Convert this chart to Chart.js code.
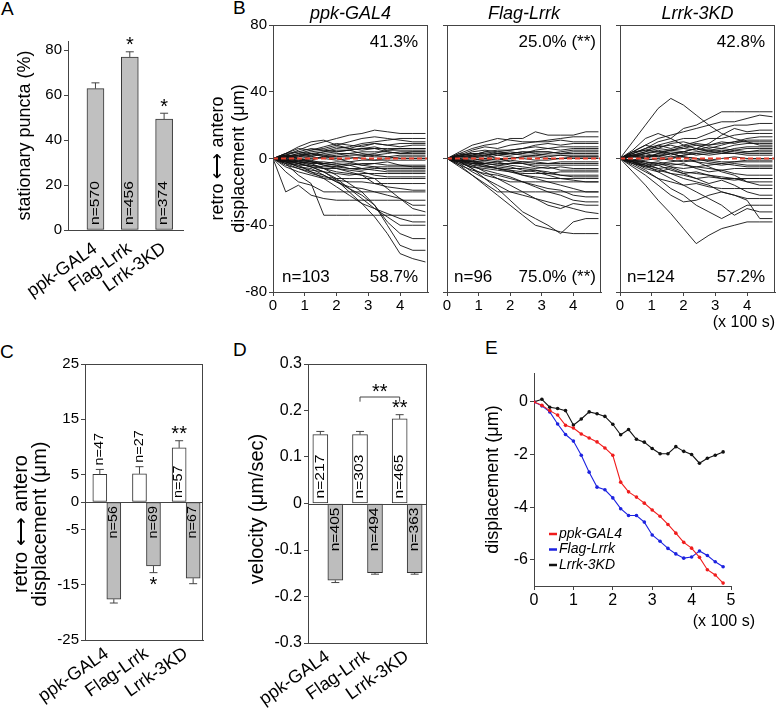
<!DOCTYPE html>
<html>
<head>
<meta charset="utf-8">
<script src="https://cdn.jsdelivr.net/npm/chart.js@4.4.1/dist/chart.umd.min.js"></script>
<style>
  body { margin: 0; background: #fff; width: 776px; height: 710px; position: relative; overflow: hidden; font-family: 'Liberation Sans', Arial, sans-serif; }
  canvas { position: absolute; }
  .panel { position: absolute; font-size: 19px; line-height: 19px; }
</style>
</head>
<body>
<div class="panel" style="left:1px;top:-1px">A</div>
<div class="panel" style="left:233px;top:-2px">B</div>
<div class="panel" style="left:0px;top:342px">C</div>
<div class="panel" style="left:233px;top:340px">D</div>
<div class="panel" style="left:485px;top:338px">E</div>

<canvas id="chartA" width="195" height="300" style="left:0;top:0"></canvas>
<canvas id="chartB1" width="252" height="335" style="left:180px;top:0"></canvas>
<canvas id="chartB2" width="170" height="335" style="left:435px;top:0"></canvas>
<canvas id="chartB3" width="168" height="335" style="left:608px;top:0"></canvas>
<canvas id="chartC" width="206" height="360" style="left:0;top:350px"></canvas>
<canvas id="chartD" width="215" height="360" style="left:215px;top:350px"></canvas>
<canvas id="chartE" width="296" height="280" style="left:480px;top:360px"></canvas>

<script>
// ---- data ----
const genotypes = ['ppk-GAL4', 'Flag-Lrrk', 'Lrrk-3KD'];

// A: stationary puncta (%)
const stationary = [62.8, 76.9, 49.3];
const stationaryErr = [2.6, 2.3, 2.6];
const stationaryN = ['n=570', 'n=456', 'n=374'];
const yTicksA = [0, 20, 40, 60, 80];

// B: displacement trajectories (um) sampled every 40 s
const bTime = [0, 0.4, 0.8, 1.2, 1.6, 2.0, 2.4, 2.8, 3.2, 3.6, 4.0, 4.4, 4.8];
const tracksGal4 = [
  [0, 2, 5, 8, 10, 12, 14, 15, 17, 16, 15, 15, 15],
  [0, 1, 3, 5, 6, 8, 10, 12, 13, 12, 11, 10, 10],
  [0, 3, 6, 5, 7, 9, 8, 7, 9, 8, 9, 9, 9],
  [0, 1, 2, 3, 4, 5, 5, 6, 6, 6, 6, 6, 6],
  [0, -1, 1, 2, 2, 3, 3, 4, 4, 4, 3, 3, 3],
  [0, -2, -1, 0, 1, 1, 2, 2, 1, 1, 2, 2, 2],
  [0, -1, -2, -3, -3, -2, -2, -1, -1, -1, -1, -1, -1],
  [0, -3, -4, -4, -5, -5, -6, -6, -5, -5, -5, -5, -5],
  [0, -2, -5, -7, -8, -9, -10, -9, -9, -9, -9, -9, -9],
  [0, -5, -8, -10, -12, -13, -14, -14, -15, -15, -15, -15, -15],
  [0, -8, -14, -16, -20, -20, -20, -20, -20, -20, -20, -20, -20],
  [0, -20, -16, -22, -24, -25, -25, -25, -25, -25, -25, -25, -25],
  [0, -3, -10, -15, -34, -34, -34, -34, -34, -34, -34, -34, -34],
  [0, -2, -4, -8, -12, -17, -22, -27, -30, -33, -36, -38, -38],
  [0, -1, -3, -5, -8, -12, -18, -24, -30, -35, -40, -40, -40],
  [0, -2, -5, -6, -10, -14, -18, -22, -28, -38, -45, -48, -48],
  [0, -1, -2, -4, -6, -10, -15, -20, -28, -40, -52, -55, -55],
  [0, -1, -3, -5, -8, -13, -20, -27, -35, -45, -57, -60, -62],
  [0, 2, 4, 3, 1, 0, -2, -4, -3, -2, -4, -5, -5],
  [0, -4, -6, -9, -11, -12, -12, -12, -12, -12, -12, -12, -12],
  [0, 3, 7, 10, 11, 8, 6, 5, 6, 4, 3, 4, 4],
  [0, -3, -6, -8, -10, -14, -17, -18, -20, -22, -24, -30, -32],
  [0, 0, -1, -2, -4, -6, -8, -10, -12, -18, -24, -28, -28],
  [0, 1, -2, -3, -6, -8, -9, -10, -15, -17, -18, -19, -19],
  [0, 1, 2, 4, 5, 7, 6, 8, 9, 8, 7, 8, 8],
  [0, -1, 0, 1, 0, -1, 0, 1, 2, 1, 0, 0, 0],
  [0, 2, 0, -2, -3, -4, -3, -4, -5, -7, -7, -7, -7],
  [0, 0, 2, 1, 3, 4, 5, 3, 2, 3, 4, 4, 4],
  [0, 1, 3, 2, 4, 6, 7, 9, 10, 11, 12, 12, 12],
  [0, -1, -1, -2, -2, -3, -4, -3, -3, -4, -4, -4, -4],
  [0, 2, 1, 3, 2, 1, 1, 0, -1, 0, 1, 1, 1],
  [0, -2, -3, -5, -6, -6, -7, -8, -10, -11, -11, -11, -11],
  [0, 1, 0, -1, 1, 2, 3, 2, 3, 5, 6, 6, 6],
  [0, -1, -3, -2, -4, -5, -4, -6, -7, -8, -8, -8, -8],
  [0, 3, 4, 6, 5, 4, 5, 6, 7, 5, 5, 5, 5],
  [0, -2, -2, -1, -3, -4, -6, -7, -6, -6, -6, -6, -6]
];
const tracksFlag = [
  [0, 3, 6, 8, 9, 12, 12, 16, 14, 14, 14, 16, 16],
  [0, 4, 8, 10, 12, 11, 10, 10, 11, 12, 13, 13, 13],
  [0, 2, 5, 7, 6, 8, 9, 10, 10, 11, 10, 10, 10],
  [0, 1, 2, 4, 5, 5, 6, 7, 6, 7, 7, 7, 7],
  [0, -1, 1, 2, 3, 3, 4, 4, 4, 3, 3, 3, 3],
  [0, -1, -2, -1, 0, 0, 1, 1, 0, 0, 0, 0, 0],
  [0, -2, -3, -3, -4, -3, -3, -4, -4, -4, -4, -4, -4],
  [0, -3, -5, -6, -7, -8, -9, -9, -9, -8, -8, -8, -8],
  [0, -2, -6, -10, -12, -14, -14, -14, -14, -14, -14, -14, -14],
  [0, -5, -10, -15, -20, -20, -20, -20, -20, -20, -20, -20, -20],
  [0, -3, -8, -12, -16, -20, -22, -24, -26, -28, -30, -32, -33],
  [0, -4, -10, -16, -22, -28, -34, -40, -42, -44, -45, -45, -45],
  [0, -2, -6, -12, -18, -25, -32, -36, -40, -45, -38, -36, -36],
  [0, -1, -4, -8, -12, -16, -20, -24, -28, -30, -27, -28, -28],
  [0, -2, -5, -7, -9, -11, -14, -17, -20, -22, -25, -26, -26],
  [0, -1, -2, -4, -6, -7, -10, -12, -14, -16, -18, -20, -20],
  [0, 2, 3, 2, 0, -2, -3, -5, -6, -5, -6, -6, -6],
  [0, -1, -3, -5, -6, -8, -10, -11, -12, -12, -12, -12, -12],
  [0, 1, 4, 5, 4, 3, 2, 2, 3, 4, 5, 5, 5],
  [0, -4, -7, -9, -10, -12, -14, -16, -18, -19, -22, -23, -23],
  [0, 1, 0, -1, -2, -1, -2, -2, -3, -2, -2, -2, -2],
  [0, 2, 3, 3, 2, 3, 4, 3, 2, 2, 1, 1, 1],
  [0, -2, -4, -5, -5, -6, -6, -7, -8, -10, -11, -11, -11],
  [0, 0, -1, 0, 2, 1, 0, -1, -1, 0, 1, 1, 1],
  [0, 1, 2, 1, 3, 4, 3, 5, 6, 5, 6, 6, 6],
  [0, -1, -2, -3, -2, -4, -5, -6, -5, -7, -7, -7, -7],
  [0, 2, 1, 2, 4, 5, 6, 8, 9, 8, 9, 9, 9],
  [0, -2, -1, -3, -4, -5, -7, -8, -10, -12, -13, -14, -14],
  [0, 1, 1, 0, -1, 0, 1, 2, 1, 2, 2, 2, 2],
  [0, -1, -3, -4, -6, -7, -8, -7, -9, -10, -10, -10, -10],
  [0, 3, 2, 4, 3, 2, 3, 4, 4, 3, 4, 4, 4],
  [0, 0, -2, -2, -3, -3, -2, -3, -3, -3, -3, -3, -3]
];
const tracks3KD = [
  [0, 10, 20, 30, 36, 32, 26, 20, 15, 12, 10, 8, 8],
  [0, 5, 12, 15, 12, 18, 20, 24, 28, 28, 28, 28, 28],
  [0, 4, 8, 12, 14, 16, 18, 20, 22, 22, 24, 26, 25],
  [0, 2, 4, 8, 10, 12, 12, 15, 18, 20, 20, 21, 21],
  [0, 3, 6, 8, 6, 8, 10, 12, 12, 14, 15, 15, 15],
  [0, 1, 3, 4, 5, 6, 8, 8, 9, 10, 10, 10, 10],
  [0, 2, 1, 3, 4, 3, 4, 5, 6, 5, 6, 6, 6],
  [0, -1, 1, 2, 1, 2, 3, 2, 3, 3, 2, 2, 2],
  [0, -2, -1, 0, -1, -2, -1, -1, -2, -2, -2, -2, -2],
  [0, -3, -4, -3, -5, -6, -5, -6, -7, -6, -6, -6, -6],
  [0, -2, -5, -7, -9, -10, -12, -11, -12, -12, -12, -12, -12],
  [0, -4, -8, -12, -14, -16, -15, -17, -18, -18, -18, -18, -18],
  [0, -5, -10, -16, -22, -26, -25, -22, -20, -22, -24, -24, -24],
  [0, -8, -16, -25, -33, -42, -51, -46, -42, -40, -38, -38, -38],
  [0, -3, -7, -12, -18, -22, -28, -32, -36, -32, -28, -28, -28],
  [0, -2, -4, -8, -12, -16, -20, -24, -28, -34, -30, -32, -32],
  [0, -1, -3, -6, -9, -12, -14, -16, -20, -22, -25, -36, -36],
  [0, 1, 3, 5, 3, 1, -2, -5, -8, -10, -14, -16, -16],
  [0, 4, 8, 6, 9, 10, 8, 6, 8, 10, 12, 13, 13],
  [0, -2, -4, -6, -5, -8, -9, -10, -11, -12, -14, -14, -14],
  [0, 3, 5, 4, 2, 4, 6, 5, 4, 3, 4, 5, 5],
  [0, -1, -2, -4, -3, -4, -5, -4, -3, -4, -5, -5, -5],
  [0, 2, 3, 1, 0, 2, 3, 4, 5, 4, 3, 3, 3],
  [0, -1, 0, 2, 3, 1, 0, -2, -3, -2, -1, -1, -1],
  [0, 3, 6, 10, 12, 8, 6, 9, 14, 18, 16, 17, 17],
  [0, -2, -6, -8, -6, -9, -12, -15, -13, -16, -20, -22, -22],
  [0, 2, 4, 6, 5, 7, 9, 8, 10, 9, 11, 11, 11],
  [0, -2, -3, -2, -4, -3, -6, -8, -7, -9, -10, -10, -10],
  [0, 1, 2, 1, 3, 4, 2, 3, 4, 6, 7, 7, 7],
  [0, -1, -2, -3, -2, -1, -2, -3, -4, -3, -4, -4, -4],
  [0, 4, 5, 7, 8, 6, 5, 7, 6, 8, 9, 9, 9],
  [0, -3, -5, -4, -7, -9, -8, -10, -12, -13, -12, -12, -12],
  [0, 1, 0, -1, 0, 1, 0, -1, 0, 1, 0, 0, 0],
  [0, 2, 0, 3, 5, 4, 6, 4, 3, 5, 4, 4, 4]
];
const bZeroX = [0, 4.88];
const bAntero = ['41.3%', '25.0% (**)', '42.8%'];
const bRetro = ['58.7%', '75.0% (**)', '57.2%'];
const bN = ['n=103', 'n=96', 'n=124'];
const yTicksB = [-80, -40, 0, 40, 80];
const xTicksB = [0, 1, 2, 3, 4];

// C: mean run displacement (um)
const cAntero = [5.0, 5.1, 9.8];
const cAnteroErr = [0.9, 1.3, 1.3];
const cRetro = [-17.6, -11.6, -13.8];
const cRetroErr = [0.7, 1.2, 1.0];
const cAnteroN = ['n=47', 'n=27', 'n=57'];
const cRetroN = ['n=56', 'n=69', 'n=67'];
const yTicksC = [25, 15, 5, 0, -5, -15, -25];

// D: velocity (um/sec)
const dAntero = [0.148, 0.148, 0.182];
const dAnteroErr = [0.007, 0.007, 0.009];
const dRetro = [-0.165, -0.149, -0.149];
const dRetroErr = [0.005, 0.003, 0.003];
const dAnteroN = ['n=217', 'n=303', 'n=465'];
const dRetroN = ['n=405', 'n=494', 'n=363'];
const yTicksD = [-0.3, -0.2, -0.1, 0, 0.1, 0.2, 0.3];

// E: average displacement (um)
const eTime = [0, 0.2, 0.4, 0.6, 0.8, 1.0, 1.2, 1.4, 1.6, 1.8, 2.0, 2.2, 2.4, 2.6, 2.8, 3.0, 3.2, 3.4, 3.6, 3.8, 4.0, 4.2, 4.4, 4.6, 4.8];
const eGal4 = [0, -0.13, -0.33, -0.5, -0.89, -0.99, -1.22, -1.37, -1.52, -1.75, -2.03, -3.05, -3.42, -3.62, -3.85, -4.11, -4.35, -4.66, -4.99, -5.34, -5.56, -5.91, -6.38, -6.58, -6.89];
const eFlag = [0, -0.15, -0.38, -0.84, -1.24, -1.49, -2.03, -2.67, -3.24, -3.34, -3.65, -4.06, -4.32, -4.32, -4.57, -5.06, -5.30, -5.57, -5.78, -5.94, -5.90, -5.67, -5.84, -6.08, -6.27];
const e3KD = [0, 0.1, -0.2, -0.25, -0.33, -0.88, -0.65, -0.38, -0.45, -0.55, -0.85, -1.25, -1.05, -1.42, -1.53, -1.77, -1.97, -1.97, -1.7, -1.88, -2.0, -2.33, -2.14, -2.03, -1.9];
const eColors = ['#f01c1c', '#1c22e0', '#111111'];
const yTicksE = [-6, -4, -2, 0];
const xTicksE = [0, 1, 2, 3, 4, 5];

// ---- helpers ----
const FONT = "'Liberation Sans', Arial, sans-serif";
Chart.defaults.font.family = FONT;
Chart.defaults.color = '#000';
Chart.defaults.animation = false;

const fit = size => s => {
  if (s.isHorizontal()) s.height = size; else s.width = size;
  s.paddingLeft = s.paddingRight = s.paddingTop = s.paddingBottom = 0;
};
const tickList = list => s => { s.ticks = list.map(v => ({ value: v })); };
const px = (c, v) => c.scales.x.getPixelForValue(v);
const py = (c, v) => c.scales.y.getPixelForValue(v);
const barEl = (c, d, i) => c.getDatasetMeta(d).data[i];
const UP = -Math.PI / 2;

function axis(min, max, ticks, size, tickOpts, extra) {
  return Object.assign({
    type: 'linear', min: min, max: max, offset: false,
    afterBuildTicks: tickList(ticks),
    afterFit: fit(size),
    border: { color: '#444' },
    grid: { drawOnChartArea: false, tickLength: 4, tickColor: '#444' },
    ticks: Object.assign({ font: { size: 15 }, padding: 2, autoSkip: false, maxRotation: 0 }, tickOpts || {})
  }, extra || {});
}
function catAxis(min, max, size, pad) {
  return axis(min, max, [1, 2, 3], size,
    { font: { size: 18 }, padding: pad, minRotation: 35, maxRotation: 35, callback: v => genotypes[v - 1] },
    { grid: { drawOnChartArea: false, drawTicks: false } });
}

// text, paths and bracket drawing
const annot = {
  id: 'annot',
  afterDatasetsDraw(chart, args, opts) {
    const ctx = chart.ctx;
    (opts.items || []).forEach(it => {
      ctx.save();
      if (it.path) {
        const pts = it.path(chart);
        ctx.strokeStyle = it.color || '#444';
        ctx.lineWidth = it.width || 1;
        ctx.beginPath();
        pts.forEach((p, k) => k ? ctx.lineTo(p[0], p[1]) : ctx.moveTo(p[0], p[1]));
        ctx.stroke();
      } else {
        const p = it.pos(chart);
        ctx.font = it.font || ('16px ' + FONT);
        ctx.fillStyle = it.color || '#000';
        ctx.textAlign = it.align || 'center';
        ctx.textBaseline = 'middle';
        ctx.translate(p[0], p[1]);
        if (it.rot) ctx.rotate(it.rot);
        if (it.sx) ctx.scale(it.sx, 1);
        [].concat(it.text).forEach((t, k) => ctx.fillText(t, 0, k * (it.lh || 0)));
      }
      ctx.restore();
    });
  }
};

// frame, zero line and error bars
const extras = {
  id: 'extras',
  afterDatasetsDraw(chart, args, opts) {
    const { ctx, chartArea: a } = chart;
    ctx.save();
    ctx.strokeStyle = '#444';
    ctx.lineWidth = 1;
    const line = (x1, y1, x2, y2) => { ctx.beginPath(); ctx.moveTo(x1, y1); ctx.lineTo(x2, y2); ctx.stroke(); };
    if (opts.box) ctx.strokeRect(a.left + 0.5, a.top + 0.5, a.right - a.left - 1, a.bottom - a.top);
    if (opts.zero) { const y = Math.round(py(chart, 0)) + 0.5; line(a.left, y, a.right, y); }
    chart.data.datasets.forEach((ds, d) => {
      if (!ds.err) return;
      chart.getDatasetMeta(d).data.forEach((el, i) => {
        const v = ds.data[i].y;
        const e = py(chart, v + Math.sign(v) * ds.err[i]);
        line(el.x, el.y, el.x, e);
        line(el.x - 4, e, el.x + 4, e);
      });
    });
    ctx.restore();
  }
};
Chart.register(annot, extras);

const basePlugins = (items, ex) => ({ legend: { display: false }, tooltip: { enabled: false }, annot: { items: items }, extras: ex || {} });
const toPoints = (xs, ys) => ys.map((v, k) => ({ x: xs[k], y: v }));
const groupPts = vals => vals.map((v, i) => ({ x: i + 1, y: v }));

// ---- A ----
const itemsA = [];
stationaryN.forEach((t, i) => itemsA.push({ text: t, rot: UP, align: 'left', sx: 1.3, font: '12px ' + FONT, pos: c => [barEl(c, 0, i).x, py(c, 0) - 5] }));
[1, 2].forEach(i => itemsA.push({ text: '*', font: '20px ' + FONT, pos: c => [barEl(c, 0, i).x, py(c, stationary[i] + stationaryErr[i]) - 6] }));

new Chart(document.getElementById('chartA'), {
  type: 'bar',
  data: { datasets: [{ data: groupPts(stationary), err: stationaryErr, backgroundColor: '#c0c0c0', borderColor: '#333', borderWidth: 1, borderSkipped: false, barThickness: 17 }] },
  options: {
    responsive: false,
    layout: { padding: { left: 0, top: 41, right: 12, bottom: 0 } },
    scales: {
      x: catAxis(0.2, 3.55, 70, 8),
      y: axis(0, 84, yTicksA, 68, {}, { title: { display: true, text: 'stationary puncta (%)', font: { size: 18 }, padding: { top: 14, bottom: 0 } } })
    },
    plugins: basePlugins(itemsA)
  }
});

// ---- B ----
function trackChart(id, tracks, k, yWidth, padRight) {
  const datasets = tracks.map(t => ({ data: toPoints(bTime, t), borderColor: '#111', borderWidth: 0.9, pointRadius: 0 }));
  // dashed zero reference drawn on top of the tracks
  datasets.push({ data: toPoints(bZeroX, [0, 0]), borderColor: '#e8402f', borderWidth: 1.8, borderDash: [5, 3], pointRadius: 0, order: -1 });
  const items = [
    { text: genotypes[k], font: 'italic 18px ' + FONT, pos: c => [(c.chartArea.left + c.chartArea.right) / 2, 14] },
    { text: bAntero[k], font: '17px ' + FONT, align: 'right', pos: c => [c.chartArea.right - (k === 1 ? 5 : 10), c.chartArea.top + 17] },
    { text: bRetro[k], font: '17px ' + FONT, align: 'right', pos: c => [c.chartArea.right - (k === 1 ? 5 : 10), c.chartArea.bottom - 15] },
    { text: bN[k], font: '17px ' + FONT, align: 'left', pos: c => [c.chartArea.left + (k === 0 ? 9 : 7), c.chartArea.bottom - 15] }
  ];
  if (k === 2) items.push({ text: '(x 100 s)', font: '16px ' + FONT, align: 'right', pos: c => [167, 323] });
  const yExtra = k === 0
    ? { title: { display: true, text: ['retro \u27F7 antero', 'displacement (\u03BCm)'], font: { size: 18 }, padding: { top: 27, bottom: 0 } } }
    : {};
  new Chart(document.getElementById(id), {
    type: 'line',
    data: { datasets: datasets },
    options: {
      responsive: false,
      layout: { padding: { left: 0, top: 25, right: padRight, bottom: 13 } },
      scales: {
        x: axis(0, 4.88, xTicksB, 30, { padding: 1 }),
        y: axis(-80, 80, yTicksB, yWidth, k === 0 ? {} : { callback: () => '' }, yExtra)
      },
      plugins: basePlugins(items, { box: true })
    }
  });
}
trackChart('chartB1', tracksGal4, 0, 93, 4);
trackChart('chartB2', tracksFlag, 1, 12, 4);
trackChart('chartB3', tracks3KD, 2, 12, 1);

// ---- C ----
const itemsC = [{ text: ['retro \u27F7 antero', 'displacement (\u03BCm)'], lh: 19, rot: UP, font: '20px ' + FONT, pos: c => [21, 174] }];
cAnteroN.forEach((t, i) => itemsC.push({ text: t, rot: UP, align: 'left', sx: 1.2, font: '12px ' + FONT,
  pos: c => [barEl(c, 0, i).x, i < 2 ? py(c, cAntero[i] + cAnteroErr[i]) - 4 : py(c, 0) - 4] }));
cRetroN.forEach((t, i) => itemsC.push({ text: t, rot: UP, align: 'right', sx: 1.2, font: '12px ' + FONT, pos: c => [barEl(c, 1, i).x, py(c, 0) + 4] }));
itemsC.push({ text: '**', font: '20px ' + FONT, pos: c => [barEl(c, 0, 2).x, py(c, cAntero[2] + cAnteroErr[2]) - 6] });
itemsC.push({ text: '*', font: '20px ' + FONT, pos: c => [barEl(c, 1, 1).x, py(c, cRetro[1] - cRetroErr[1]) + 13] });

new Chart(document.getElementById('chartC'), {
  type: 'bar',
  data: { datasets: [
    { data: groupPts(cAntero), err: cAnteroErr, backgroundColor: '#fff', borderColor: '#333', borderWidth: 1, borderSkipped: false, barThickness: 14 },
    { data: groupPts(cRetro), err: cRetroErr, backgroundColor: '#bdbdbd', borderColor: '#333', borderWidth: 1, borderSkipped: false, barThickness: 14 }
  ] },
  options: {
    responsive: false,
    layout: { padding: { left: 0, top: 14, right: 3, bottom: 0 } },
    scales: { x: catAxis(0.45, 3.425, 70, 3), y: axis(-25, 25, yTicksC, 85) },
    plugins: basePlugins(itemsC, { box: true, zero: true })
  }
});

// ---- D ----
const itemsD = [{ text: 'velocity (\u03BCm/sec)', rot: UP, font: '20px ' + FONT, pos: c => [42, 159] }];
dAnteroN.forEach((t, i) => itemsD.push({ text: t, rot: UP, align: 'left', sx: 1.3, font: '12px ' + FONT, pos: c => [barEl(c, 0, i).x, py(c, 0) - 5] }));
dRetroN.forEach((t, i) => itemsD.push({ text: t, rot: UP, align: 'right', sx: 1.3, font: '12px ' + FONT, pos: c => [barEl(c, 1, i).x, py(c, 0) + 4] }));
itemsD.push({ text: '**', font: '20px ' + FONT, pos: c => [barEl(c, 0, 2).x, py(c, dAntero[2] + dAnteroErr[2]) - 6] });
itemsD.push({ path: c => [[barEl(c, 0, 1).x, py(c, 0.219)], [barEl(c, 0, 1).x, py(c, 0.229)], [barEl(c, 0, 2).x, py(c, 0.229)], [barEl(c, 0, 2).x, py(c, 0.219)]] });
itemsD.push({ text: '**', font: '20px ' + FONT, pos: c => [(barEl(c, 0, 1).x + barEl(c, 0, 2).x) / 2, py(c, 0.229) - 5] });

new Chart(document.getElementById('chartD'), {
  type: 'bar',
  data: { datasets: [
    { data: groupPts(dAntero), err: dAnteroErr, backgroundColor: '#fff', borderColor: '#333', borderWidth: 1, borderSkipped: false, barThickness: 15 },
    { data: groupPts(dRetro), err: dRetroErr, backgroundColor: '#bdbdbd', borderColor: '#333', borderWidth: 1, borderSkipped: false, barThickness: 15 }
  ] },
  options: {
    responsive: false,
    layout: { padding: { left: 0, top: 14, right: 3, bottom: 0 } },
    scales: { x: catAxis(0.5, 3.5, 67, 3), y: axis(-0.3, 0.3, yTicksD, 93, { font: { size: 16 }, callback: v => String(v) }) },
    plugins: basePlugins(itemsD, { box: true, zero: true })
  }
});

// ---- E ----
const eSeries = [eGal4, eFlag, e3KD];
const itemsE = [{ text: '(x 100 s)', font: '16px ' + FONT, align: 'right', pos: c => [275, 262] }];
genotypes.forEach((g, k) => {
  itemsE.push({ path: c => [[c.chartArea.left + 15, c.chartArea.bottom - 52 + 15.5 * k], [c.chartArea.left + 23, c.chartArea.bottom - 52 + 15.5 * k]], color: eColors[k], width: 2.5 });
  itemsE.push({ text: g, font: 'italic 14px ' + FONT, align: 'left', pos: c => [c.chartArea.left + 25, c.chartArea.bottom - 52 + 15.5 * k] });
});

new Chart(document.getElementById('chartE'), {
  type: 'line',
  data: { datasets: eSeries.map((s, k) => ({ data: toPoints(eTime, s), borderColor: eColors[k], backgroundColor: eColors[k], borderWidth: 1.1, pointRadius: 1.8, pointBorderWidth: 0 })) },
  options: {
    responsive: false,
    layout: { padding: { left: 0, top: 13, right: 45, bottom: 24 } },
    scales: {
      x: axis(0, 5, xTicksE, 30, { font: { size: 16 }, padding: 1 }),
      y: axis(-7, 1.1, yTicksE, 54, { font: { size: 16 } }, { title: { display: true, text: 'displacement (\u03BCm)', font: { size: 18 }, padding: { top: 2, bottom: 0 } } })
    },
    plugins: basePlugins(itemsE)
  }
});
</script>
</body>
</html>
